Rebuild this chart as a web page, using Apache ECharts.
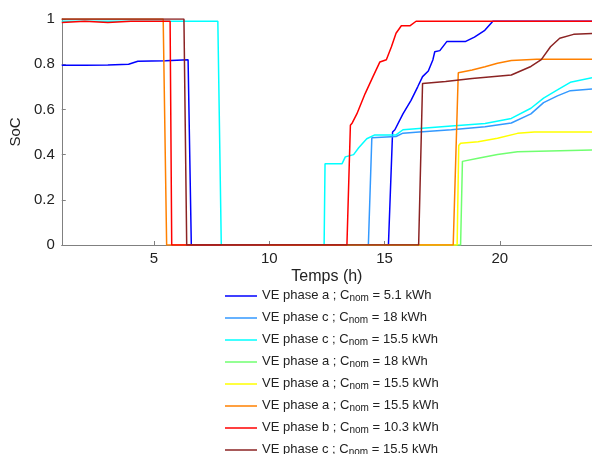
<!DOCTYPE html>
<html>
<head>
<meta charset="utf-8">
<script src="https://cdn.jsdelivr.net/npm/echarts@6/dist/echarts.min.js"></script>
<style>
  html, body { margin: 0; padding: 0; background: #fff; }
  #chart { width: 592px; height: 454px; }
</style>
</head>
<body>
<div id="chart"></div>
<script>
// temps (h) et SoC, une paire de tableaux par VE
const tBlue = [1, 2, 3, 3.9, 4.3, 5.5, 6.48, 6.62, 15.17, 15.35, 15.45, 15.8, 16.15, 16.44, 16.65, 16.9, 17.1, 17.18, 17.4, 17.7, 18.5, 18.9, 19.35, 19.7, 24];
const socBlue = [0.795, 0.795, 0.797, 0.80, 0.813, 0.815, 0.82, 0, 0, 0.50, 0.51, 0.58, 0.64, 0.70, 0.745, 0.77, 0.82, 0.855, 0.86, 0.90, 0.90, 0.92, 0.95, 0.99, 0.99];

const tLightBlue = [10, 14.3, 14.45, 15.5, 15.8, 16.5, 17.9, 19.36, 20.5, 21.35, 21.9, 22.5, 23.06, 24];
const socLightBlue = [0, 0, 0.475, 0.48, 0.495, 0.50, 0.51, 0.523, 0.54, 0.58, 0.63, 0.66, 0.683, 0.69];

const tCyan = [1, 7.77, 7.92, 12.38, 12.42, 13.16, 13.3, 13.66, 13.88, 14.23, 14.58, 15.5, 15.8, 16.5, 17.9, 19.36, 20.5, 21.35, 21.9, 22.5, 23.06, 24];
const socCyan = [0.99, 0.99, 0, 0, 0.36, 0.36, 0.39, 0.40, 0.43, 0.47, 0.487, 0.487, 0.51, 0.516, 0.527, 0.538, 0.56, 0.605, 0.65, 0.686, 0.72, 0.74];

const tGreen = [10, 18.3, 18.38, 18.45, 19.06, 19.9, 20.77, 24];
const socGreen = [0, 0, 0.37, 0.376, 0.384, 0.40, 0.413, 0.42];

const tYellow = [10, 18.15, 18.22, 18.3, 19.06, 19.9, 20.77, 21.5, 24];
const socYellow = [0, 0, 0.44, 0.45, 0.457, 0.472, 0.494, 0.50, 0.50];

const tOrange = [1, 5.4, 5.55, 17.98, 18.2, 18.8, 19.36, 19.9, 20.5, 21.6, 24];
const socOrange = [1, 1, 0, 0, 0.762, 0.774, 0.789, 0.804, 0.816, 0.822, 0.822];

const tRed = [1, 2, 3, 4, 5.7, 5.77, 13.37, 13.52, 13.6, 13.8, 14.16, 14.5, 14.8, 15.08, 15.3, 15.5, 15.73, 16.1, 16.37, 24];
const socRed = [0.985, 0.99, 0.985, 0.99, 0.99, 0, 0, 0.53, 0.54, 0.58, 0.67, 0.745, 0.81, 0.82, 0.877, 0.937, 0.97, 0.97, 0.99, 0.99];

const tBrown = [1, 6.3, 6.42, 16.48, 16.65, 16.72, 17.65, 18.8, 20.5, 21.35, 21.8, 22.2, 22.6, 23.2, 24];
const socBrown = [1, 1, 0, 0, 0.715, 0.723, 0.723, 0.737, 0.752, 0.79, 0.82, 0.877, 0.915, 0.932, 0.936];

const phases = ['a', 'c', 'c', 'a', 'a', 'a', 'b', 'c'];
const capacities = ['5.1', '18', '15.5', '18', '15.5', '15.5', '10.3', '15.5'];
const colors = ['#0000ff', '#3399ff', '#00ffff', '#70ff70', '#ffff00', '#ff8000', '#ff0000', '#8b2323'];
const xTicks = [5, 10, 15, 20];

const times = [tBlue, tLightBlue, tCyan, tGreen, tYellow, tOrange, tRed, tBrown];
const socs = [socBlue, socLightBlue, socCyan, socGreen, socYellow, socOrange, socRed, socBrown];

const font = "'Liberation Sans', Arial, sans-serif";
const chart = echarts.init(document.getElementById('chart'), null, { renderer: 'canvas' });

// noms uniques (deux légendes identiques sinon fusionnées)
const names = phases.map((p, i) => 've' + (i + 1));
const legendText = {};
names.forEach((n, i) => {
  legendText[n] = '{t|VE phase ' + phases[i] + ' ; C}{s|nom}{t| = ' + capacities[i] + ' kWh}';
});

const series = names.map((n, i) => ({
  name: n,
  type: 'line',
  symbol: 'none',
  color: colors[i],
  lineStyle: { width: 1.5 },
  data: times[i].map((t, k) => [t, socs[i][k]])
}));

const option = {
  animation: false,
  backgroundColor: '#fff',
  textStyle: { fontFamily: font },
  grid: { left: 60.5, right: -6, top: 19, bottom: 209 },
  legend: {
    orient: 'vertical',
    left: 225,
    top: 287,
    height: 220,
    padding: 0,
    icon: 'rect',
    itemWidth: 32,
    itemHeight: 1.5,
    itemGap: 6,
    data: names,
    formatter: n => legendText[n],
    textStyle: {
      fontFamily: font,
      color: '#222',
      rich: {
        t: { fontSize: 13, fontFamily: font, color: '#222', lineHeight: 14, verticalAlign: 'top' },
        s: { fontSize: 10, fontFamily: font, color: '#222', lineHeight: 10, padding: [6, 0, 0, 0], verticalAlign: 'bottom' }
      }
    }
  },
  xAxis: {
    type: 'value',
    min: 1,
    max: 24,
    name: 'Temps (h)',
    nameLocation: 'middle',
    nameGap: 24,
    nameTextStyle: { fontSize: 16, color: '#222', fontFamily: font },
    axisLine: { show: true, lineStyle: { color: '#808080', width: 1 } },
    axisTick: { show: true, inside: true, length: 4, customValues: xTicks, lineStyle: { color: '#808080' } },
    axisLabel: { customValues: xTicks, fontSize: 15, color: '#222', margin: 6, fontFamily: font },
    splitLine: { show: false }
  },
  yAxis: {
    type: 'value',
    min: 0,
    max: 1,
    interval: 0.2,
    name: 'SoC',
    nameLocation: 'middle',
    nameGap: 34,
    nameTextStyle: { fontSize: 15, color: '#222', fontFamily: font },
    axisLine: { show: true, lineStyle: { color: '#808080', width: 1 } },
    axisTick: { show: true, inside: true, length: 4, lineStyle: { color: '#808080' } },
    axisLabel: { fontSize: 15, color: '#222', margin: 7, fontFamily: font },
    splitLine: { show: false }
  },
  series: series
};

chart.setOption(option);
</script>
</body>
</html>
